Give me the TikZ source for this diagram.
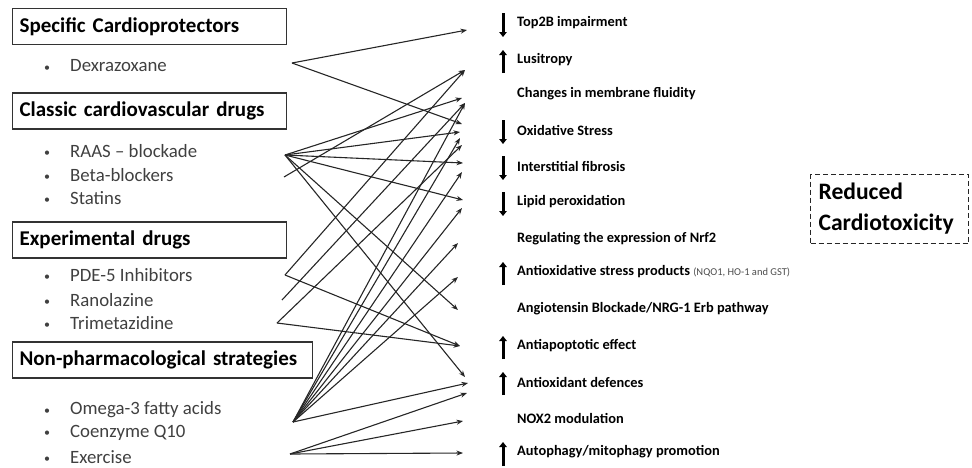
\documentclass[tikz,border=0pt]{standalone}
\usepackage{fontspec}
\setmainfont{Carlito}
\usetikzlibrary{arrows.meta}
\begin{document}
\begin{tikzpicture}[x=1pt,y=-1pt,
  hdr/.style={draw=black!80, line width=1.2pt, minimum height=36pt, inner xsep=7pt, inner ysep=0pt,
    align=left, anchor=west, font=\fontsize{21}{24}\selectfont\bfseries},
  item/.style={anchor=west, inner sep=0pt, text=black!75, font=\fontsize{18.8}{21}\selectfont},
  eff/.style={anchor=west, inner sep=0pt, font=\fontsize{14.4}{17}\selectfont\bfseries},
  conn/.style={line width=1.1pt, black!85, -{Stealth[length=6.5pt,width=5pt]}},
  vup/.style={line width=3pt, -{Triangle[length=5pt,width=7.5pt]}},
]
\useasboundingbox (0,0) rectangle (972,467);

% headers
\node[hdr, text width=260pt] (h1) at (12,26.5) {Specific Cardioprotectors};
\node[hdr, text width=260pt] (h2) at (12,111) {Classic cardiovascular drugs};
\node[hdr, text width=260pt] (h3) at (12,240) {Experimental drugs};
\node[hdr, text width=286pt] (h4) at (12,360) {Non-pharmacological strategies};

% items
\newcommand{\bul}{\makebox[26pt][l]{\fontsize{12}{14}\selectfont\raisebox{0.15ex}{\textbullet}}}
\node[item] (dex) at (44,66) {\bul Dexrazoxane};
\node[item] (raas) at (44,151) {\bul RAAS – blockade};
\node[item] (beta) at (44,175) {\bul Beta-blockers};
\node[item] (stat) at (44,198) {\bul Statins};
\node[item] (pde) at (44,275) {\bul PDE-5 Inhibitors};
\node[item] (ran) at (44,300) {\bul Ranolazine};
\node[item] (tri) at (44,323) {\bul Trimetazidine};
\node[item] (ome) at (44,410) {\bul Omega-3 fatty acids};
\node[item] (coq) at (44,433) {\bul Coenzyme Q10};
\node[item] (exe) at (44,457) {\bul Exercise};

% effects
\node[eff] (e1) at (517,23) {Top2B impairment};
\node[eff] (e2) at (517,60) {Lusitropy};
\node[eff] (e3) at (517,94) {Changes in membrane fluidity};
\node[eff] (e4) at (517,130) {Oxidative Stress};
\node[eff] (e5) at (517,166) {Interstitial fibrosis};
\node[eff] (e6) at (517,202) {Lipid peroxidation};
\node[eff] (e7) at (517,239) {Regulating the expression of Nrf2};
\node[eff] (e8) at (517,272) {Antioxidative stress products {\mdseries\fontsize{10.5}{12}\selectfont\color{black!70}(NQO1, HO-1 and GST)}};
\node[eff] (e9) at (517,309) {Angiotensin Blockade/NRG-1 Erb pathway};
\node[eff] (e10) at (517,346) {Antiapoptotic effect};
\node[eff] (e11) at (517,382) {Antioxidant defences};
\node[eff] (e12) at (517,418) {NOX2 modulation};
\node[eff] (e13) at (517,452) {Autophagy/mitophagy promotion};

% up/down markers
\draw[vup] (503,13) -- (503,37);
\draw[vup] (503,73) -- (503,50);
\draw[vup] (503,120) -- (503,144);
\draw[vup] (503,156) -- (503,180);
\draw[vup] (503,192) -- (503,216);
\draw[vup] (503,285) -- (503,262);
\draw[vup] (503,359) -- (503,336);
\draw[vup] (503,395) -- (503,372);
\draw[vup] (503,466) -- (503,442);

% result box
\node[draw=black!85, dash pattern=on 5pt off 3pt, line width=1.1pt, anchor=north west, minimum width=158pt, minimum height=69pt,
  inner xsep=8pt, align=left, text width=142pt, font=\fontsize{23.6}{31}\selectfont\bfseries] (res) at (810,174)
  {Reduced\\Cardiotoxicity};

% sources
\coordinate (sdex) at (292,63);
\coordinate (sraas) at (285,155);
\coordinate (sbeta) at (284,177);
\coordinate (spde) at (285,275);
\coordinate (sran) at (282,300);
\coordinate (stri) at (277,323);
\coordinate (some) at (293,422);
\coordinate (sex) at (290,454);

% targets
\coordinate (t1) at (467,30);
\coordinate (t2) at (465,70);
\coordinate (t3) at (462,98);
\coordinate (t4) at (465,103);
\coordinate (t5) at (462,124);
\coordinate (t6) at (460,132);
\coordinate (t7) at (460,138);
\coordinate (t8) at (462,145);
\coordinate (t9) at (463,163);
\coordinate (t10) at (462,172);
\coordinate (t11) at (463,200);
\coordinate (t12) at (462,208);
\coordinate (t13) at (458,243);
\coordinate (t14) at (458,277);
\coordinate (t15) at (458,310);
\coordinate (t16) at (460,346);
\coordinate (t17) at (465,377);
\coordinate (t18) at (468,383);
\coordinate (t19) at (467,393);
\coordinate (t20) at (463,421);
\coordinate (t21) at (463,453);

% connectors
\foreach \t in {t1,t5} \draw[conn] (sdex) -- (\t);
\foreach \t in {t3,t6,t9,t11,t15,t17} \draw[conn] (sraas) -- (\t);
\draw[conn] (sbeta) -- (t2);
\foreach \t in {t2,t16} \draw[conn] (spde) -- (\t);
\draw[conn] (sran) -- (t4);
\foreach \t in {t8,t16} \draw[conn] (stri) -- (\t);
\foreach \t in {t4,t7,t10,t12,t13,t14,t18} \draw[conn] (some) -- (\t);
\foreach \t in {t19,t20,t21} \draw[conn] (sex) -- (\t);
\end{tikzpicture}
\end{document}
